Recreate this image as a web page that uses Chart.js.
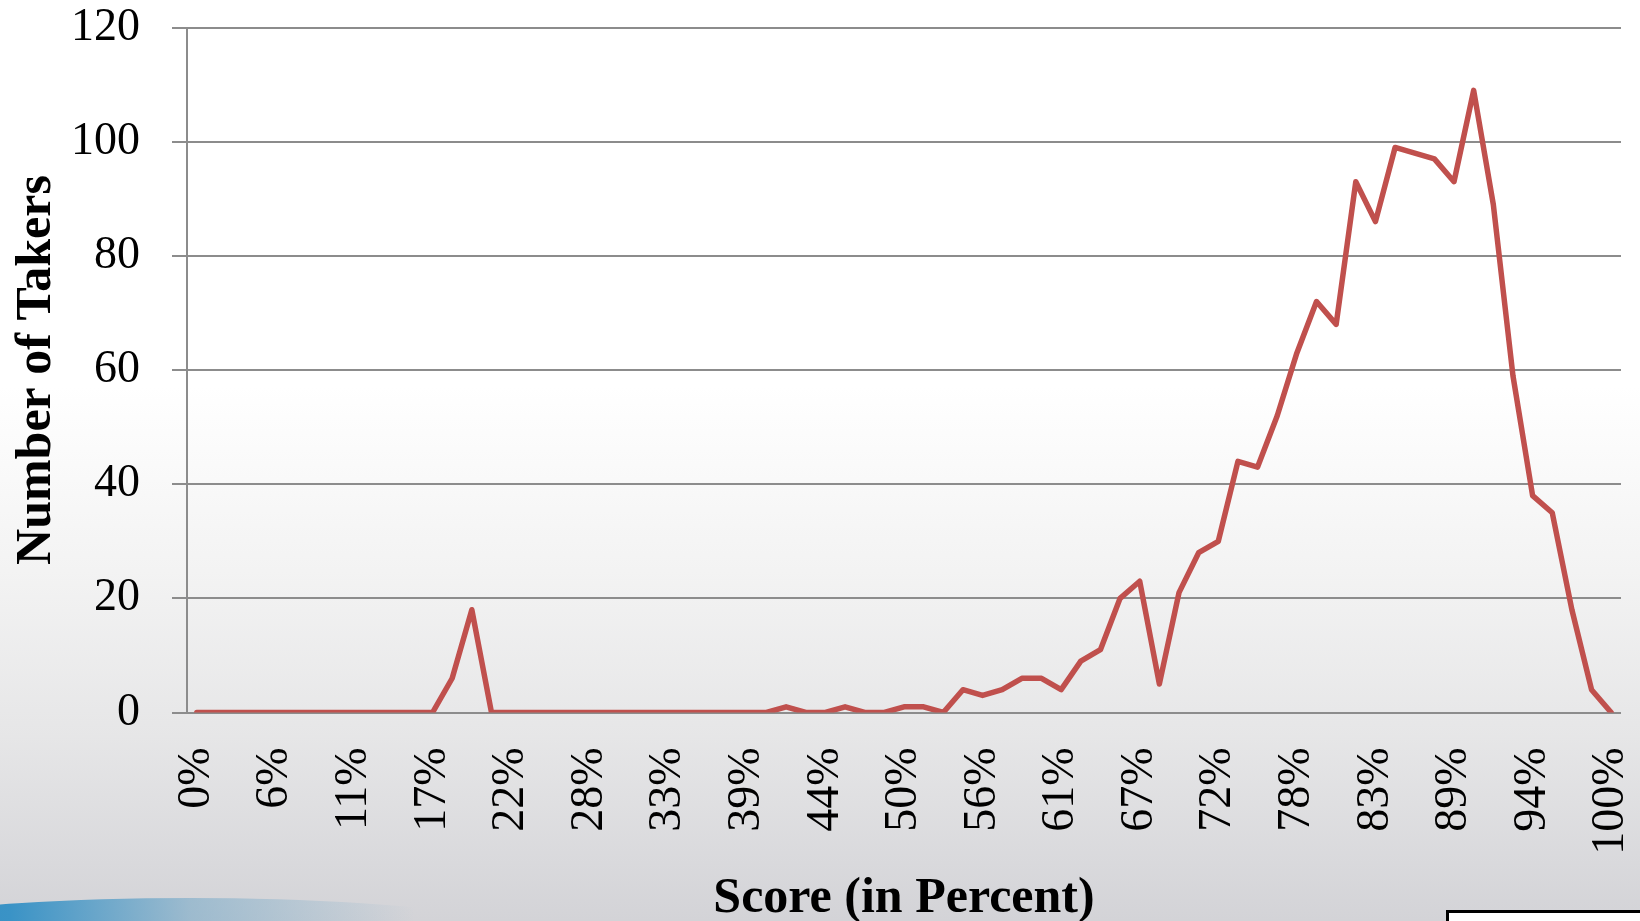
<!DOCTYPE html>
<html>
<head>
<meta charset="utf-8">
<script src="https://cdn.jsdelivr.net/npm/chart.js@4"></script>
<style>
  html, body { margin: 0; padding: 0; }
  #wrap {
    position: relative; width: 1640px; height: 921px; overflow: hidden;
    background: linear-gradient(to bottom, #ffffff 0%, #ffffff 42%, #f3f3f3 62%, #e6e6e7 80%, #d3d3d7 100%);
  }
  #swoosh {
    position: absolute; left: -260px; top: 898px; width: 900px; height: 140px;
    border-radius: 50%;
    background: linear-gradient(to right, #1f7fb8 0%, #3a93c6 30%, rgba(120,170,200,0.6) 50%, rgba(200,210,220,0) 75%);
  }
  #box {
    position: absolute; left: 1446px; top: 910px; width: 220px; height: 40px;
    border: 3px solid #000; background: #fff;
  }
  canvas { position: absolute; left: 0; top: 0; }
</style>
</head>
<body>
<div id="wrap">
  <div id="swoosh"></div>
  <div id="box"></div>
  <canvas id="c" width="1640" height="921"></canvas>
</div>
<script>
const categories = ["0%","1%","3%","4%","6%","7%","8%","10%","11%","13%","14%","15%","17%","18%","19%","21%","22%","24%","25%","26%","28%","29%","31%","32%","33%","35%","36%","38%","39%","40%","42%","43%","44%","46%","47%","49%","50%","51%","53%","54%","56%","57%","58%","60%","61%","63%","64%","65%","67%","68%","69%","71%","72%","74%","75%","76%","78%","79%","81%","82%","83%","85%","86%","88%","89%","90%","92%","93%","94%","96%","97%","99%","100%"];

const takers = [0,0,0,0,0,0,0,0,0,0,0,0,0,6,18,0,0,0,0,0,0,0,0,0,0,0,0,0,0,0,1,0,0,1,0,0,1,1,0,4,3,4,6,6,4,9,11,20,23,5,21,28,30,44,43,52,63,72,68,93,86,99,98,97,93,109,89,59,38,35,18,4,0];

const yTicks = [0, 20, 40, 60, 80, 100, 120];

const seriesName = "Number of Takers";
const xTitle = "Score (in Percent)";
const yTitle = "Number of Takers";

const serif = "'Liberation Serif', 'DejaVu Serif', serif";
const gridColor = "#8c8c8c";

new Chart(document.getElementById('c'), {
  type: 'line',
  data: {
    labels: categories,
    datasets: [{
      label: seriesName,
      data: takers,
      borderColor: '#c0504d',
      backgroundColor: '#c0504d',
      borderWidth: 5.5,
      pointRadius: 0,
      tension: 0,
      borderJoinStyle: 'round',
      borderCapStyle: 'round',
      fill: false
    }]
  },
  options: {
    responsive: false,
    animation: false,
    layout: { padding: 0 },
    plugins: { legend: { display: false }, tooltip: { enabled: false } },
    scales: {
      x: {
        type: 'category',
        offset: true,
        grid: { display: false },
        border: { display: false },
        ticks: {
          autoSkip: false,
          minRotation: 90,
          maxRotation: 90,
          padding: 27,
          color: '#000',
          font: { family: serif, size: 46 },
          callback: function(value, index) { return index % 4 === 0 ? categories[index] : ''; }
        },
        title: {
          display: true, text: xTitle, color: '#000',
          font: { family: serif, size: 50, weight: 'bold', lineHeight: 0.84 },
          padding: { top: 0, bottom: 1 }
        },
        afterFit: function(scale) {
          scale.height = 208.5;
          scale.paddingLeft = 0;
          scale.paddingRight = 19;
        }
      },
      y: {
        min: 0, max: 120,
        afterBuildTicks: function(scale) { scale.ticks = yTicks.map(v => ({ value: v })); },
        grid: { color: gridColor, lineWidth: 2, tickLength: 15, drawTicks: true },
        border: { display: true, color: gridColor, width: 2 },
        ticks: {
          padding: 32,
          color: '#000',
          font: { family: serif, size: 46 }
        },
        title: {
          display: true, text: yTitle, color: '#000',
          font: { family: serif, size: 50, weight: 'bold', lineHeight: 1.0 },
          padding: { top: 12, bottom: 0 }
        },
        afterFit: function(scale) {
          scale.width = 187;
          scale.paddingTop = 27.6;
          scale.paddingBottom = 0;
        }
      }
    }
  }
});
</script>
</body>
</html>
